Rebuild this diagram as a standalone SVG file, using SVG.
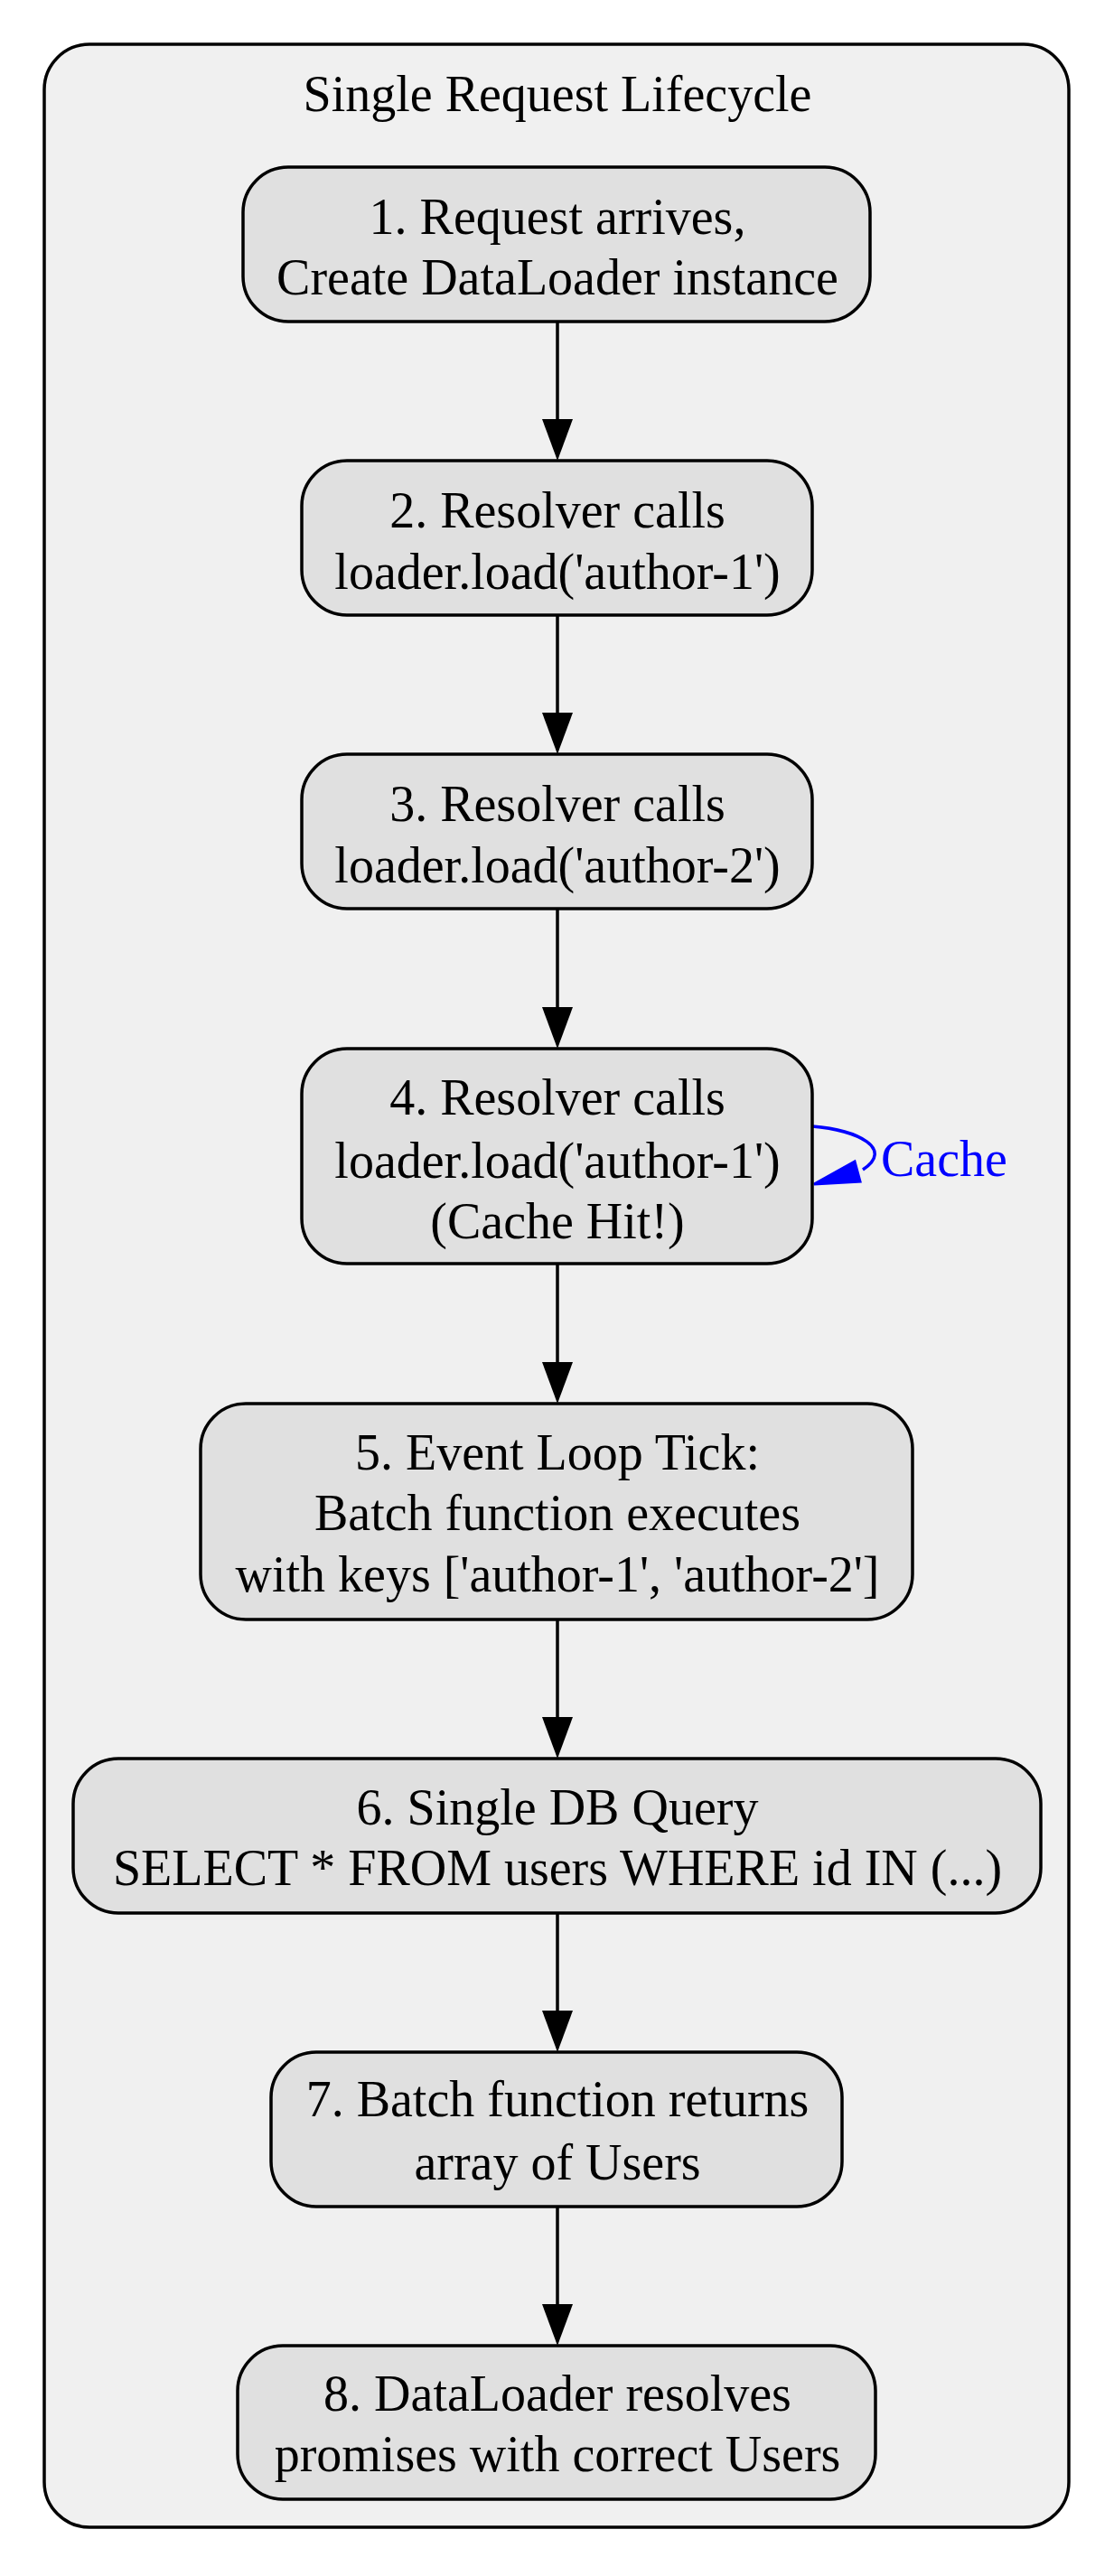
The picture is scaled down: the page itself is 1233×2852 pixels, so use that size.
<svg xmlns="http://www.w3.org/2000/svg" width="1233" height="2852" viewBox="0 0 1233 2852">
<style>
.n{fill:#e0e0e0;stroke:#000;stroke-width:3.5}
.t{font-family:"Liberation Serif","Times New Roman",serif;font-size:56px;text-anchor:middle;fill:#000}
.e{stroke:#000;stroke-width:3.5;fill:none}
</style>
<rect width="1233" height="2852" fill="#fff"/>
<g id="cluster">
<rect x="49" y="49" width="1134" height="2749" rx="50" fill="#f0f0f0" stroke="#000" stroke-width="3.5"/>
<text class="t" x="617" y="123">Single Request Lifecycle</text>
</g>
<g id="edges">
<path class="e" d="M617,356V464M617,681V789M617,1006V1115M617,1399V1508M617,1793V1901M617,2118V2226M617,2443V2551"/>
<g fill="#000">
<polygon points="600,464 634,464 617,510"/>
<polygon points="600,789 634,789 617,835"/>
<polygon points="600,1115 634,1115 617,1161"/>
<polygon points="600,1508 634,1508 617,1554"/>
<polygon points="600,1901 634,1901 617,1947"/>
<polygon points="600,2226 634,2226 617,2272"/>
<polygon points="600,2551 634,2551 617,2597"/>
</g>
<path d="M899,1247 C950,1251 990,1272 955,1295" stroke="#0000ff" stroke-width="3.5" fill="none"/>
<polygon points="901,1311 946,1286 952,1308" fill="#0000ff" stroke="#0000ff" stroke-width="3"/>
<text class="t" x="975" y="1302" style="text-anchor:start;fill:#0000ff">Cache</text>
</g>
<g id="n1"><rect class="n" x="269" y="185" width="694" height="171" rx="50"/><text class="t" x="617" y="259">1. Request arrives,</text><text class="t" x="617" y="326">Create DataLoader instance</text></g>
<g id="n2"><rect class="n" x="334" y="510" width="565" height="171" rx="50"/><text class="t" x="617" y="584">2. Resolver calls</text><text class="t" x="617" y="652">loader.load('author-1')</text></g>
<g id="n3"><rect class="n" x="334" y="835" width="565" height="171" rx="50"/><text class="t" x="617" y="909">3. Resolver calls</text><text class="t" x="617" y="977">loader.load('author-2')</text></g>
<g id="n4"><rect class="n" x="334" y="1161" width="565" height="238" rx="50"/><text class="t" x="617" y="1234">4. Resolver calls</text><text class="t" x="617" y="1304">loader.load('author-1')</text><text class="t" x="617" y="1371">(Cache Hit!)</text></g>
<g id="n5"><rect class="n" x="222" y="1554" width="788" height="239" rx="50"/><text class="t" x="617" y="1627">5. Event Loop Tick:</text><text class="t" x="617" y="1694">Batch function executes</text><text class="t" x="617" y="1762">with keys ['author-1', 'author-2']</text></g>
<g id="n6"><rect class="n" x="81" y="1947" width="1071" height="171" rx="50"/><text class="t" x="617" y="2020">6. Single DB Query</text><text class="t" x="617" y="2087">SELECT * FROM users WHERE id IN (...)</text></g>
<g id="n7"><rect class="n" x="300" y="2272" width="632" height="171" rx="50"/><text class="t" x="617" y="2343">7. Batch function returns</text><text class="t" x="617" y="2413">array of Users</text></g>
<g id="n8"><rect class="n" x="263" y="2597" width="706" height="170" rx="50"/><text class="t" x="617" y="2669">8. DataLoader resolves</text><text class="t" x="617" y="2736">promises with correct Users</text></g>
</svg>
